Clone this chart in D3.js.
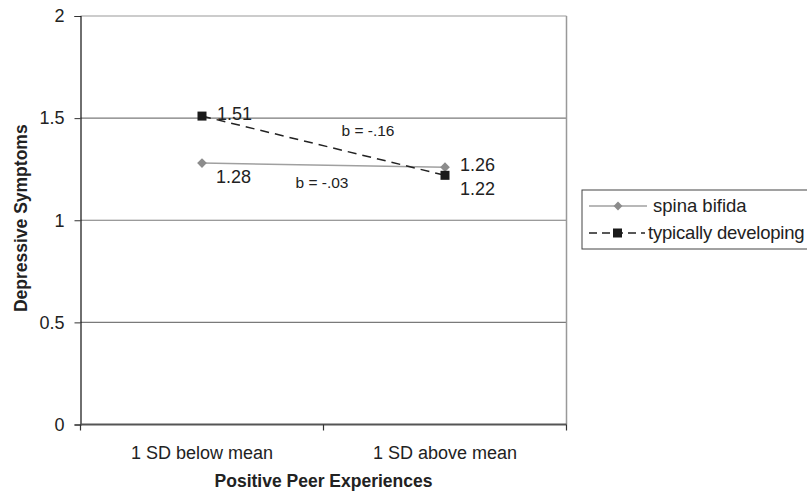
<!DOCTYPE html>
<html><head><meta charset="utf-8">
<script src="https://cdn.jsdelivr.net/npm/d3@7"></script>
<style>body{margin:0;background:#fff}svg{display:block;font-family:"Liberation Sans",Arial,sans-serif}</style>
</head><body><svg id="c" width="807" height="492"></svg>
<script>
const categories = ["1 SD below mean", "1 SD above mean"];
const spinaBifida = [1.28, 1.26];
const typicallyDeveloping = [1.51, 1.22];
const yTicks = [0, 0.5, 1, 1.5, 2];
const seriesNames = ["spina bifida", "typically developing"];
const slopeLabels = ["b = -.03", "b = -.16"];

const svg = d3.select("#c");
const L = 80.5, R = 566.5, T = 16, B = 424.5;
const x = d3.scaleBand().domain(categories).range([L, R]).padding(0);
const y = d3.scaleLinear().domain([0, 2]).range([B, T]);
const cx = c => x(c) + x.bandwidth() / 2;

// gridlines
svg.append("g").selectAll("line").data(yTicks.filter(v => v > 0)).join("line")
  .attr("x1", L).attr("x2", R).attr("y1", d => y(d)).attr("y2", d => y(d))
  .attr("stroke", d => d === 2 ? "#999" : "#7a7a7a").attr("stroke-width", 1.2);
// right border
svg.append("line").attr("x1", R).attr("x2", R).attr("y1", T).attr("y2", B)
  .attr("stroke", "#999").attr("stroke-width", 1.5);

// y axis
const yAxis = d3.axisLeft(y).tickValues(yTicks).tickFormat(d3.format("")).tickSize(6).tickPadding(10);
const gy = svg.append("g").attr("transform", `translate(${L},0)`).call(yAxis);
gy.select(".domain").attr("stroke", "#111").attr("stroke-width", 1.2);
gy.selectAll(".tick line").attr("stroke", "#333");
gy.selectAll("text").attr("font-size", 18).attr("fill", "#222").attr("font-family", "Liberation Sans, Arial, sans-serif");

// x axis with ticks at band edges
svg.append("line").attr("x1", L).attr("x2", R).attr("y1", B).attr("y2", B)
  .attr("stroke", "#555").attr("stroke-width", 2);
const edges = [L].concat(categories.map(c => x(c) + x.bandwidth()));
svg.append("g").selectAll("line").data(edges).join("line")
  .attr("x1", d => d).attr("x2", d => d).attr("y1", B).attr("y2", B + 6)
  .attr("stroke", "#333").attr("stroke-width", 1.2);
svg.append("g").selectAll("text").data(categories).join("text")
  .attr("x", d => cx(d)).attr("y", 459).attr("text-anchor", "middle")
  .attr("font-size", 18).attr("fill", "#222").text(d => d);

// axis titles
svg.append("text").attr("x", (L + R) / 2).attr("y", 487).attr("text-anchor", "middle")
  .attr("font-size", 17.5).attr("font-weight", "bold").attr("fill", "#222").text("Positive Peer Experiences");
svg.append("text").attr("transform", `translate(27,${(T + B) / 2 - 2}) rotate(-90)`).attr("text-anchor", "middle")
  .attr("font-size", 17.5).attr("font-weight", "bold").attr("fill", "#222").text("Depressive Symptoms");

const line = d3.line().x((d, i) => cx(categories[i])).y(d => y(d));

// spina bifida
svg.append("path").datum(spinaBifida).attr("d", line).attr("fill", "none")
  .attr("stroke", "#a0a0a0").attr("stroke-width", 1.5);
svg.append("g").selectAll("path").data(spinaBifida).join("path")
  .attr("d", d3.symbol(d3.symbolDiamond2, 60)())
  .attr("transform", (d, i) => `translate(${cx(categories[i])},${y(d)})`)
  .attr("fill", "#8c8c8c");

// typically developing
svg.append("path").datum(typicallyDeveloping).attr("d", line).attr("fill", "none")
  .attr("stroke", "#222").attr("stroke-width", 1.5).attr("stroke-dasharray", "9,6");
svg.append("g").selectAll("rect").data(typicallyDeveloping).join("rect")
  .attr("x", (d, i) => cx(categories[i]) - 4.5).attr("y", d => y(d) - 4.5)
  .attr("width", 9).attr("height", 9).attr("fill", "#1a1a1a");

// value labels
const lab = svg.append("g").attr("font-size", 18).attr("fill", "#222");
lab.append("text").attr("x", cx(categories[0]) + 15).attr("y", y(typicallyDeveloping[0]) + 4).text(typicallyDeveloping[0]);
lab.append("text").attr("x", cx(categories[0]) + 14).attr("y", y(spinaBifida[0]) + 20).text(spinaBifida[0]);
lab.append("text").attr("x", cx(categories[1]) + 15).attr("y", y(spinaBifida[1]) + 4).text(spinaBifida[1]);
lab.append("text").attr("x", cx(categories[1]) + 15).attr("y", y(typicallyDeveloping[1]) + 20).text(typicallyDeveloping[1]);
const midX = (cx(categories[0]) + cx(categories[1])) / 2;
svg.append("text").attr("x", midX - 28).attr("y", 187.5).attr("font-size", 15.5).attr("fill", "#222").text(slopeLabels[0]);
svg.append("text").attr("x", midX + 18).attr("y", 136).attr("font-size", 15.5).attr("fill", "#222").text(slopeLabels[1]);

// legend
const lg = svg.append("g");
lg.append("rect").attr("x", 582).attr("y", 190).attr("width", 240).attr("height", 59)
  .attr("fill", "#fff").attr("stroke", "#444").attr("stroke-width", 1);
const legY = [206, 233];
lg.append("line").attr("x1", 589).attr("x2", 647).attr("y1", legY[0]).attr("y2", legY[0])
  .attr("stroke", "#a0a0a0").attr("stroke-width", 1.5);
lg.append("path").attr("d", d3.symbol(d3.symbolDiamond2, 50)()).attr("transform", `translate(618,${legY[0]})`).attr("fill", "#8c8c8c");
lg.append("line").attr("x1", 589).attr("x2", 645).attr("y1", legY[1]).attr("y2", legY[1])
  .attr("stroke", "#222").attr("stroke-width", 1.5).attr("stroke-dasharray", "8,5");
lg.append("rect").attr("x", 613).attr("y", legY[1] - 4.5).attr("width", 9).attr("height", 9).attr("fill", "#1a1a1a");
lg.append("text").attr("x", 653).attr("y", legY[0] + 6).attr("font-size", 18.5).attr("fill", "#222").text(seriesNames[0]);
lg.append("text").attr("x", 648).attr("y", legY[1] + 6).attr("font-size", 18.5).attr("fill", "#222")
  .attr("letter-spacing", -0.2).text(seriesNames[1]);
</script></body></html>
